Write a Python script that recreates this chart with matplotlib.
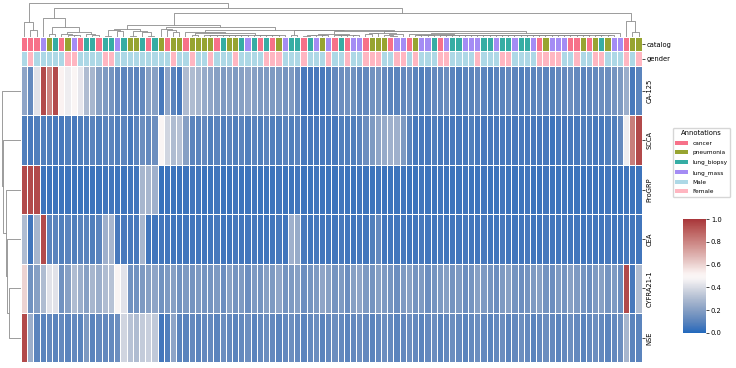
import numpy as np
import matplotlib
matplotlib.use("Agg")
import matplotlib.pyplot as plt
import seaborn as sns
from matplotlib.collections import LineCollection
from matplotlib.patches import Patch
from matplotlib.colors import ListedColormap

# ---------------- data (display order) ----------------
markers = ["CA-125", "SCCA", "ProGRP", "CEA", "CYFRA21-1", "NSE"]

ca125 = [0.22, 0.12, 0.42, 0.95, 0.80, 0.95, 0.52, 0.45, 0.50, 0.43,
         0.30, 0.28, 0.20, 0.18, 0.16, 0.12, 0.10, 0.12, 0.10, 0.12,
         0.20, 0.20, 0.06, 0.22, 0.10, 0.06, 0.30, 0.30, 0.28, 0.24,
         0.22, 0.20, 0.18, 0.20, 0.18, 0.20, 0.22, 0.20, 0.18, 0.18,
         0.18, 0.18, 0.16, 0.18, 0.14, 0.06, 0.06, 0.06, 0.06, 0.08,
         0.12, 0.14, 0.15, 0.15, 0.12, 0.12, 0.15, 0.16, 0.12, 0.10,
         0.10, 0.12, 0.14, 0.10, 0.08, 0.10, 0.12, 0.12, 0.14, 0.10,
         0.08, 0.10, 0.10, 0.12, 0.10, 0.08, 0.10, 0.10, 0.12, 0.10,
         0.08, 0.10, 0.10, 0.12, 0.10, 0.10, 0.12, 0.12, 0.14, 0.12,
         0.10, 0.12, 0.12, 0.14, 0.14, 0.16, 0.18, 0.25, 0.06, 0.10]
scca = [0.08, 0.06, 0.08, 0.08, 0.08, 0.06, 0.06, 0.08, 0.06, 0.08,
        0.08, 0.10, 0.08, 0.10, 0.10, 0.08, 0.10, 0.06, 0.10, 0.14,
        0.12, 0.14, 0.50, 0.38, 0.30, 0.32, 0.20, 0.10, 0.10, 0.12,
        0.08, 0.10, 0.08, 0.10, 0.08, 0.10, 0.08, 0.10, 0.08, 0.10,
        0.08, 0.08, 0.10, 0.08, 0.10, 0.06, 0.06, 0.06, 0.06, 0.06,
        0.06, 0.08, 0.08, 0.08, 0.10, 0.14, 0.18, 0.22, 0.24, 0.26,
        0.26, 0.18, 0.10, 0.06, 0.06, 0.06, 0.08, 0.06, 0.06, 0.06,
        0.06, 0.06, 0.08, 0.06, 0.06, 0.06, 0.06, 0.06, 0.06, 0.06,
        0.06, 0.06, 0.06, 0.06, 0.06, 0.04, 0.06, 0.06, 0.06, 0.06,
        0.08, 0.08, 0.06, 0.06, 0.08, 0.08, 0.12, 0.45, 0.82, 0.95]
progrp = [0.95, 0.95, 0.95, 0.04, 0.04, 0.04, 0.04, 0.04, 0.04, 0.04,
          0.04, 0.04, 0.04, 0.05, 0.05, 0.04, 0.04, 0.05, 0.05, 0.28,
          0.28, 0.26, 0.03, 0.04, 0.04, 0.04, 0.04, 0.05, 0.05, 0.04,
          0.04, 0.05, 0.04, 0.04, 0.05, 0.04, 0.04, 0.05, 0.04, 0.04,
          0.04, 0.05, 0.04, 0.04, 0.05, 0.04, 0.04, 0.05, 0.04, 0.04,
          0.04, 0.05, 0.04, 0.04, 0.05, 0.04, 0.04, 0.05, 0.04, 0.04,
          0.04, 0.05, 0.04, 0.04, 0.05, 0.04, 0.04, 0.05, 0.04, 0.04,
          0.04, 0.05, 0.04, 0.04, 0.05, 0.04, 0.04, 0.05, 0.04, 0.04,
          0.04, 0.05, 0.04, 0.04, 0.05, 0.04, 0.04, 0.05, 0.04, 0.04,
          0.04, 0.05, 0.04, 0.04, 0.05, 0.04, 0.04, 0.05, 0.04, 0.04]
cea = [0.30, 0.05, 0.28, 0.95, 0.10, 0.10, 0.08, 0.10, 0.08, 0.10,
       0.10, 0.08, 0.10, 0.26, 0.28, 0.06, 0.06, 0.06, 0.06, 0.28,
       0.05, 0.05, 0.05, 0.05, 0.05, 0.05, 0.05, 0.05, 0.05, 0.05,
       0.05, 0.06, 0.05, 0.05, 0.06, 0.05, 0.05, 0.06, 0.05, 0.05,
       0.05, 0.06, 0.05, 0.26, 0.24, 0.06, 0.05, 0.06, 0.05, 0.05,
       0.05, 0.06, 0.05, 0.05, 0.06, 0.05, 0.08, 0.12, 0.05, 0.05,
       0.05, 0.06, 0.05, 0.05, 0.06, 0.05, 0.05, 0.06, 0.05, 0.05,
       0.05, 0.06, 0.05, 0.05, 0.06, 0.05, 0.05, 0.06, 0.05, 0.05,
       0.05, 0.06, 0.05, 0.05, 0.06, 0.05, 0.05, 0.06, 0.05, 0.05,
       0.05, 0.06, 0.05, 0.05, 0.06, 0.05, 0.05, 0.06, 0.05, 0.05]
cyfra = [0.60, 0.15, 0.20, 0.30, 0.42, 0.42, 0.15, 0.20, 0.30, 0.25,
         0.20, 0.28, 0.25, 0.30, 0.32, 0.50, 0.42, 0.15, 0.15, 0.18,
         0.20, 0.22, 0.15, 0.18, 0.20, 0.15, 0.18, 0.16, 0.18, 0.16,
         0.16, 0.18, 0.14, 0.20, 0.16, 0.18, 0.14, 0.18, 0.16, 0.20,
         0.18, 0.22, 0.16, 0.18, 0.20, 0.14, 0.16, 0.18, 0.22, 0.20,
         0.16, 0.18, 0.14, 0.20, 0.22, 0.18, 0.16, 0.20, 0.18, 0.16,
         0.14, 0.18, 0.20, 0.16, 0.18, 0.14, 0.16, 0.18, 0.20, 0.16,
         0.18, 0.14, 0.16, 0.20, 0.18, 0.16, 0.14, 0.18, 0.20, 0.16,
         0.14, 0.16, 0.18, 0.20, 0.16, 0.14, 0.18, 0.16, 0.20, 0.18,
         0.16, 0.14, 0.18, 0.20, 0.16, 0.18, 0.14, 0.95, 0.06, 0.30]
nse = [0.95, 0.25, 0.10, 0.10, 0.12, 0.10, 0.12, 0.10, 0.12, 0.10,
       0.18, 0.10, 0.12, 0.12, 0.12, 0.14, 0.38, 0.32, 0.30, 0.35,
       0.36, 0.34, 0.05, 0.08, 0.22, 0.10, 0.10, 0.12, 0.10, 0.12,
       0.12, 0.10, 0.14, 0.12, 0.10, 0.12, 0.14, 0.10, 0.12, 0.14,
       0.12, 0.10, 0.12, 0.14, 0.12, 0.10, 0.12, 0.14, 0.10, 0.12,
       0.14, 0.12, 0.10, 0.12, 0.14, 0.12, 0.10, 0.12, 0.14, 0.12,
       0.10, 0.12, 0.14, 0.12, 0.10, 0.12, 0.14, 0.10, 0.12, 0.14,
       0.12, 0.10, 0.12, 0.14, 0.12, 0.10, 0.12, 0.14, 0.10, 0.12,
       0.14, 0.12, 0.10, 0.12, 0.14, 0.12, 0.10, 0.12, 0.14, 0.12,
       0.10, 0.12, 0.14, 0.12, 0.10, 0.12, 0.14, 0.28, 0.10, 0.10]

# catalog: c=cancer p=pneumonia b=lung_biopsy m=lung_mass
catalog = ("cccmpbcpmcbbc"
           "bbmbppbcbpcpp"
           "cppppcbppbmb"
           "cbcpmbbcbmpmc"
           "bcmmcpppcmmcpmmbcmbbmmmb"
           "bmbbmbbmcpmmmccpcpbpmmcpp")
# gender: m=Male f=Female
gender = ("mfmmmmmffmmmm"
          "ffmmmmmmmmmfm"
          "mfmmfmmmfmmm"
          "mfffmmmfmmmfm"
          "mfmmfffmmffmfmmmffmmmmfm"
          "mmffmmmmffffmmfmmffmmmfmf")

cat_names = ["cancer", "pneumonia", "lung_biopsy", "lung_mass"]
cat_codes = {"c": 0, "p": 1, "b": 2, "m": 3}
gen_names = ["Male", "Female"]
gen_codes = {"m": 4, "f": 5}
ann_colors = ["#f77189", "#97a431", "#36ada4", "#a48cf4", "#add8e6", "#ffb6c1"]
ann_labels = cat_names + gen_names

# row dendrogram: (left node, right node, height)
row_links = [(4, 5, 0.66), (3, 6, 0.74), (2, 7, 0.82), (1, 8, 0.967), (0, 9, 1.0)]

# column dendrogram, top part:
# leaf groups (first, last, height of group's top node)
col_groups = [(0, 2, 0.444), (3, 12, 0.555), (13, 21, 0.22), (22, 96, 0.30),
              (97, 99, 0.474)]
# merges between groups (group ids 0..4, new nodes 5..): (left, right, height)
col_top_links = [(2, 3, 0.345), (5, 4, 0.714), (1, 6, 0.846), (0, 7, 1.0)]

data = np.array([ca125, scca, progrp, cea, cyfra, nse])
n_rows, n_cols = data.shape


def constrained_linkage(X, offset):
    """average linkage restricted to neighbouring clusters; returns raw segments"""
    n = len(X)
    D = np.sqrt(((X[:, None, :] - X[None, :, :]) ** 2).sum(-1))
    cl = [dict(m=[i], x=10 * (i + offset) + 5.0, h=0.0) for i in range(n)]
    segs = []
    while len(cl) > 1:
        best = None
        for k in range(len(cl) - 1):
            d = D[np.ix_(cl[k]["m"], cl[k + 1]["m"])].mean()
            if best is None or d < best[0]:
                best = (d, k)
        d, k = best
        a, b = cl[k], cl[k + 1]
        h = max(d, a["h"], b["h"])
        segs.append([(a["x"], a["h"]), (a["x"], h), (b["x"], h), (b["x"], b["h"])])
        cl[k:k + 2] = [dict(m=a["m"] + b["m"], x=(a["x"] + b["x"]) / 2, h=h)]
    return segs, cl[0]["x"], cl[0]["h"]


def column_tree():
    segs = []
    nodes = []
    for first, last, top in col_groups:
        s, x, h = constrained_linkage(data.T[first:last + 1], first)
        f = top / h if h > 0 else 1.0
        segs += [[(px, py * f) for px, py in seg] for seg in s]
        nodes.append((x, top))
    for a, b, h in col_top_links:
        xa, ha = nodes[a]
        xb, hb = nodes[b]
        segs.append([(xa, ha), (xa, h), (xb, h), (xb, hb)])
        nodes.append(((xa + xb) / 2, h))
    return segs, col_top_links[-1][2]


def explicit_linkage(links, n):
    pos = {i: (10 * i + 5.0, 0.0) for i in range(n)}
    segs = []
    nid = n
    for a, b, h in links:
        xa, ha = pos[a]
        xb, hb = pos[b]
        segs.append([(xa, ha), (xa, h), (xb, h), (xb, hb)])
        pos[nid] = ((xa + xb) / 2, h)
        nid += 1
    return segs, links[-1][2]


W, H = 736, 368
fig = plt.figure(figsize=(W / 100, H / 100), dpi=100)


def px_axes(x0, y0, x1, y1):
    return fig.add_axes([x0 / W, 1 - y1 / H, (x1 - x0) / W, (y1 - y0) / H])


HX0, HX1 = 21, 641.7
ax_hm = px_axes(HX0, 66, HX1, 362.5)
ax_cc = px_axes(HX0, 37, HX1, 65.8)
ax_cd = px_axes(HX0, 1.5, HX1, 36.5)
ax_rd = px_axes(1.5, 66, HX0, 362.5)
ax_cb = px_axes(682.7, 219.3, 706, 332.7)

cmap = sns.color_palette("vlag", as_cmap=True)
tree_color = (0.55, 0.55, 0.55)

# heatmap
mesh = ax_hm.pcolormesh(np.arange(n_cols + 1), np.arange(n_rows + 1), data,
                        cmap=cmap, vmin=0, vmax=1, edgecolors="white", linewidth=0.5)
ax_hm.set_xlim(0, n_cols)
ax_hm.set_ylim(n_rows, 0)
ax_hm.set_xticks([])
ax_hm.yaxis.tick_right()
ax_hm.set_yticks(np.arange(n_rows) + 0.5)
ax_hm.set_yticklabels(markers, rotation=90, va="center", fontsize=4.9)
ax_hm.tick_params(axis="y", length=2, width=0.5, pad=1.5)
for s in ax_hm.spines.values():
    s.set_visible(False)

# annotation colours
ann = np.array([[cat_codes[c] for c in catalog], [gen_codes[g] for g in gender]])
ax_cc.pcolormesh(np.arange(n_cols + 1), np.arange(3), ann,
                 cmap=ListedColormap(ann_colors), vmin=-0.5, vmax=5.5,
                 edgecolors="white", linewidth=0.5)
ax_cc.set_xlim(0, n_cols)
ax_cc.set_ylim(2, 0)
ax_cc.set_xticks([])
ax_cc.yaxis.tick_right()
ax_cc.set_yticks([0.5, 1.5])
ax_cc.set_yticklabels(["catalog", "gender"], fontsize=4.9)
ax_cc.tick_params(axis="y", length=2, width=0.5, pad=1.5)
for s in ax_cc.spines.values():
    s.set_visible(False)

# column dendrogram
csegs, cmax = column_tree()
ax_cd.add_collection(LineCollection(csegs, colors=[tree_color], linewidths=0.6))
ax_cd.set_xlim(0, n_cols * 10)
ax_cd.set_ylim(0, cmax * 1.05)
ax_cd.axis("off")

# row dendrogram
rsegs, rmax = explicit_linkage(row_links, n_rows)
rsegs = [[(h, x) for x, h in s] for s in rsegs]
ax_rd.add_collection(LineCollection(rsegs, colors=[tree_color], linewidths=0.6))
ax_rd.set_ylim(n_rows * 10, 0)
ax_rd.set_xlim(rmax * 1.05, 0)
ax_rd.axis("off")

# colorbar
cb = fig.colorbar(mesh, cax=ax_cb, ticks=[0, 0.2, 0.4, 0.6, 0.8, 1.0])
cb.outline.set_linewidth(0)
ax_cb.tick_params(labelsize=4.9, length=2, width=0.5, pad=1.5)

# legend
handles = [Patch(facecolor=c, label=l) for c, l in zip(ann_colors, ann_labels)]
fig.legend(handles=handles, title="Annotations", loc="upper left",
           bbox_to_anchor=(673 / W, 1 - 128 / H), borderaxespad=0,
           fontsize=4.2, title_fontsize=4.9, handlelength=2.2,
           labelspacing=0.75, frameon=True, fancybox=True)

fig.savefig("out.png", dpi=100)
